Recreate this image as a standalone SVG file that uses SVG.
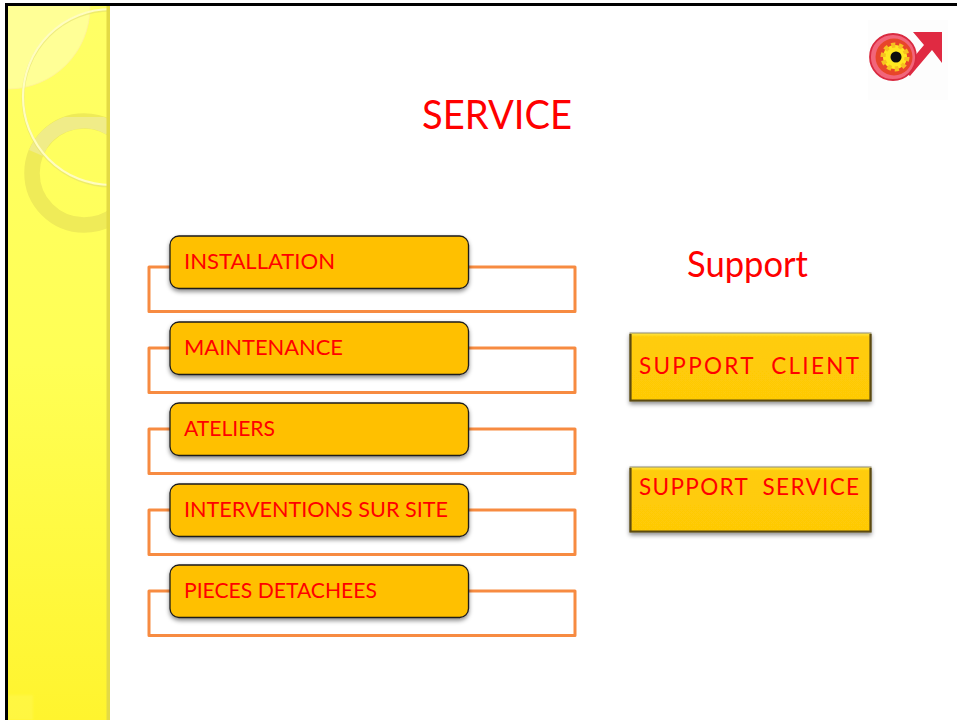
<svg xmlns="http://www.w3.org/2000/svg" width="957" height="720" viewBox="0 0 957 720">
<style>
text{font-family:"Lato","Open Sans","Liberation Sans",sans-serif;fill:#ff0000;white-space:pre}
.box{fill:#ffc000;stroke:#1a1a1a;stroke-width:1.3;filter:url(#sh)}
.loop{fill:#fff;stroke:#f78b41;stroke-width:3;stroke-linejoin:round}
.lbl{font-size:22px}
.sup{fill:url(#gold);stroke:#8f8a70;stroke-width:1;filter:url(#sh)}
.bevel{fill:none;stroke:#5c4a10;stroke-width:2.2}
.suplbl{font-size:22.5px}
</style>
<defs>
<filter id="sh" x="-5%" y="-15%" width="110%" height="135%"><feDropShadow dx="0" dy="2.5" stdDeviation="2" flood-color="#000" flood-opacity=".45"/></filter>
<filter id="soft" x="-10%" y="-10%" width="120%" height="120%"><feGaussianBlur stdDeviation="0.6"/></filter>
<filter id="blur" x="-10%" y="-10%" width="120%" height="120%"><feGaussianBlur stdDeviation="0.9"/></filter>
<linearGradient id="gold" x1="0" y1="0" x2="0" y2="1"><stop offset="0" stop-color="#ffe84a"/><stop offset=".06" stop-color="#ffcc08"/><stop offset="1" stop-color="#ffca06"/></linearGradient>
<linearGradient id="panel" x1="0" y1="0" x2="0" y2="1"><stop offset="0" stop-color="#ffff66"/><stop offset=".5" stop-color="#ffff55"/><stop offset="1" stop-color="#fff42e"/></linearGradient>
<clipPath id="pc"><rect x="8" y="6" width="102" height="714"/></clipPath>
</defs>
<rect width="957" height="720" fill="#fff"/>
<g id="panel-bg">
<rect x="8" y="6" width="102" height="714" fill="url(#panel)"/>
<g clip-path="url(#pc)">
<circle cx="8" cy="7" r="82" fill="#ffff96" stroke="#fff09a" stroke-width="0.8"/>
<circle cx="84" cy="173" r="52" fill="none" stroke="#efeb58" stroke-width="15.500" filter="url(#soft)"/>
<path d="M36 153A52 52 0 0 1 110 128" fill="none" stroke="#f0ec88" stroke-width="15" filter="url(#soft)"/>
<circle cx="111" cy="98" r="88" fill="none" stroke="#e4e070" stroke-width="3" opacity=".6" filter="url(#soft)"/>
<circle cx="111" cy="97" r="88" fill="none" stroke="#fffdc0" stroke-width="2.200" filter="url(#soft)"/>
<rect x="106.500" y="6" width="3.500" height="714" fill="#e3da45"/>
</g>
<rect x="8" y="695" width="25" height="25" fill="#fff84a" opacity=".7" filter="url(#blur)"/>
</g>
<path id="frame" d="M6.500 720V4.500H957" fill="none" stroke="#000" stroke-width="3"/>
<g id="logo">
<rect x="868" y="20" width="80" height="80" fill="#fdfdfd"/>
<path d="M913 32L942 32L942 63L932 50L910 76L903 70L924 45Z" fill="#e02a42" filter="url(#soft)"/>
<circle cx="893" cy="57" r="23" fill="#f2657a" stroke="#d92a40" stroke-width="1.800" filter="url(#soft)"/>
<circle cx="894" cy="57" r="18.500" fill="#e8452a" filter="url(#soft)"/>
<circle cx="895" cy="57" r="12" fill="#ffe820" stroke="#f6c020" stroke-width="5" stroke-dasharray="4 3.500" filter="url(#soft)"/>
<circle cx="896" cy="57" r="5.500" fill="#111" filter="url(#soft)"/>
</g>
<g id="connectors">
<rect class="loop" x="149" y="267" width="426" height="44.500"/>
<rect class="loop" x="149" y="348" width="426" height="44.500"/>
<rect class="loop" x="149" y="429" width="426" height="44.500"/>
<rect class="loop" x="149" y="510" width="426" height="44.500"/>
<rect class="loop" x="149" y="591" width="426" height="44.500"/>
</g>
<g id="title"><text x="422" y="129" font-size="40" textLength="150" lengthAdjust="spacingAndGlyphs">SERVICE</text></g>
<g id="support-title"><text x="687" y="277" font-size="36" textLength="121" lengthAdjust="spacingAndGlyphs">Support</text></g>
<g id="installation"><rect class="box" x="170" y="236" width="298.500" height="52.500" rx="9"/><text class="lbl" x="184" y="269" textLength="151" lengthAdjust="spacingAndGlyphs">INSTALLATION</text></g>
<g id="maintenance"><rect class="box" x="170" y="322" width="298.500" height="52.500" rx="9"/><text class="lbl" x="184" y="355" textLength="159" lengthAdjust="spacingAndGlyphs">MAINTENANCE</text></g>
<g id="ateliers"><rect class="box" x="170" y="403" width="298.500" height="52.500" rx="9"/><text class="lbl" x="184" y="436" textLength="91" lengthAdjust="spacingAndGlyphs">ATELIERS</text></g>
<g id="interventions"><rect class="box" x="170" y="484" width="298.500" height="52.500" rx="9"/><text class="lbl" x="184" y="517" textLength="264" lengthAdjust="spacingAndGlyphs">INTERVENTIONS SUR SITE</text></g>
<g id="pieces"><rect class="box" x="170" y="565" width="298.500" height="52.500" rx="9"/><text class="lbl" x="184" y="598" textLength="193" lengthAdjust="spacingAndGlyphs">PIECES DETACHEES</text></g>
<g id="support-client"><rect class="sup" x="630" y="333" width="241" height="68"/><path class="bevel" d="M630.500 334V400.500H870.500V334"/><text class="suplbl" x="639" y="374" textLength="220">SUPPORT  CLIENT</text></g>
<g id="support-service"><rect class="sup" x="630" y="467" width="241" height="65"/><path class="bevel" d="M630.500 468V531.500H870.500V468"/><text class="suplbl" x="639" y="495" textLength="220">SUPPORT  SERVICE</text></g>
</svg>
